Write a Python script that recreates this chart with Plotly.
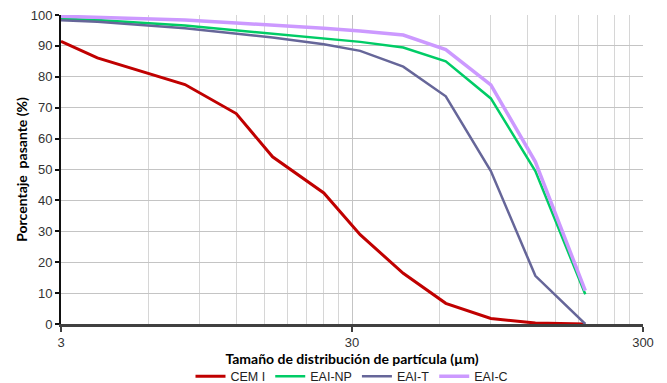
import math
import plotly.graph_objects as go

# Particle size (µm)
sizes = [3, 4, 8, 12, 16, 24, 32, 45, 63, 90, 128, 190]

cem_i = [91.5, 86.1, 77.5, 68.1, 54.1, 42.4, 28.9, 16.4, 6.7, 1.8, 0.3, 0.0]
eai_np = [98.8, 98.4, 96.6, 95.1, 94.0, 92.6, 91.3, 89.5, 85.0, 73.0, 49.5, 9.6]
eai_t = [98.3, 97.8, 95.7, 94.0, 92.7, 90.5, 88.4, 83.3, 73.7, 49.5, 15.6, 0.0]
eai_c = [99.6, 99.3, 98.4, 97.4, 96.8, 95.7, 94.8, 93.5, 88.8, 77.4, 52.5, 10.8]

series_names = ["CEM I", "EAI-NP", "EAI-T", "EAI-C"]
series_colors = ["#C00000", "#00CC66", "#666699", "#CC99FF"]
series_widths = [3, 2.5, 2.5, 3.5]

x_tick_vals = [3, 30, 300]
x_minor_vals = [6, 9, 12, 15, 18, 21, 24, 27, 60, 90, 120, 150, 180, 210, 240, 270]

fig = go.Figure()
for name, vals, col, w in zip(series_names, [cem_i, eai_np, eai_t, eai_c],
                              series_colors, series_widths):
    fig.add_trace(go.Scatter(x=sizes, y=vals, mode="lines", name=name,
                             line=dict(color=col, width=w)))

tick_font = dict(family="Liberation Sans, Arial, sans-serif", size=13, color="#333333")
title_font = dict(family="Lato, Calibri, sans-serif", size=14, color="#000000")

# the page body has an 8px default margin, so the figure is 16px smaller
fig.update_layout(
    width=659, height=375,
    margin=dict(l=53, r=24, t=7, b=59, autoexpand=False),
    paper_bgcolor="white", plot_bgcolor="white",
    showlegend=True,
    legend=dict(orientation="h", x=0.5, xanchor="center", xref="paper",
                y=-0.122, yanchor="top",
                font=dict(family="Liberation Sans, Arial, sans-serif", size=12.5, color="#222222"),
                itemwidth=30, tracegroupgap=0),
    xaxis=dict(
        type="log",
        range=[math.log10(3), math.log10(300)],
        tickvals=x_tick_vals, ticktext=[str(v) for v in x_tick_vals],
        tickfont=tick_font, ticklabeloverflow="allow",
        showgrid=True, gridcolor="#C4C4C4", gridwidth=1.2,
        minor=dict(tickvals=x_minor_vals, showgrid=True, gridcolor="#D6D6D6",
                   gridwidth=1.3, ticks=""),
        showline=True, linecolor="#404040", linewidth=2.5,
        ticks="outside", ticklen=5, tickwidth=2, tickcolor="#404040",
        title=dict(text="<b>Tamaño de distribución de partícula (µm)</b>",
                   font=title_font, standoff=0),
        zeroline=False,
    ),
    yaxis=dict(
        range=[0, 100], dtick=10,
        tickfont=tick_font, ticklabeloverflow="allow",
        showgrid=True, gridcolor="#C4C4C4", gridwidth=1.2,
        showline=True, linecolor="#111111", linewidth=2,
        ticks="outside", ticklen=4, tickwidth=1.5, tickcolor="#111111",
        title=dict(text="<b>Porcentaje  pasante (%)</b>", font=title_font, standoff=0),
        zeroline=False,
    ),
)

fig.write_html("out.html")
